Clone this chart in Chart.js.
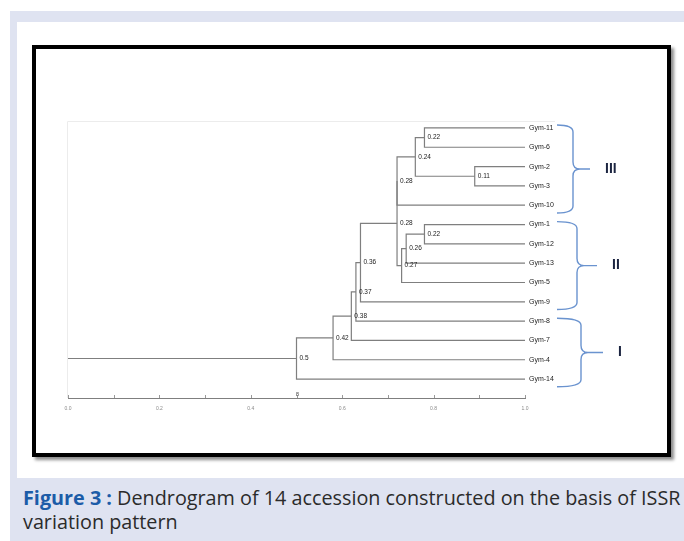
<!DOCTYPE html>
<html>
<head>
<meta charset="utf-8">
<script src="https://cdn.jsdelivr.net/npm/chart.js@4/dist/chart.umd.min.js"></script>
<style>
    body { margin: 0; width: 684px; height: 541px; background: #fff; position: relative; overflow: hidden; }
    .lav { position: absolute; left: 10px; top: 11px; right: 0; bottom: 0; background: #dfe3f1; }
    .panel { position: absolute; left: 17px; top: 22px; right: 0; height: 456px; background: #fff; }
    .box { position: absolute; left: 32px; top: 45px; width: 639px; height: 412px; box-sizing: border-box;
           border: 4px solid #000; box-shadow: 3px 3px 3px rgba(0,0,0,0.45); }
    .caption { position: absolute; left: 23px; top: 486px; font: 19.8px "Open Sans", sans-serif; line-height: 24px;
               color: #2b2b2b; white-space: nowrap; }
    .caption b { color: #1c5ca8; }
    #dendro { position: absolute; left: 0; top: 0; }
</style>
</head>
<body>
<div class="lav"></div>
<div class="panel"></div>
<div class="box"></div>
<div class="caption"><b>Figure 3 :</b> Dendrogram of 14 accession constructed on the basis of ISSR<br>variation pattern</div>
<canvas id="dendro" width="684" height="541"></canvas>

<script>
/* dendrogram of ISSR similarity */

// leaves, top to bottom
const leaves = ['Gym-11', 'Gym-6', 'Gym-2', 'Gym-3', 'Gym-10', 'Gym-1', 'Gym-12',
                'Gym-13', 'Gym-5', 'Gym-9', 'Gym-8', 'Gym-7', 'Gym-4', 'Gym-14'];

// merges: negative = leaf number (1-based), positive = earlier merge number
const mergeLeft   = [-1, -3, 1, 3, -6, 5, 6, 4, 8, 9, 10, 11, 12];
const mergeRight  = [-2, -4, 2, -5, -7, -8, -9, 7, -10, -11, -12, -13, -14];
const mergeHeight = [0.22, 0.11, 0.24, 0.28, 0.22, 0.26, 0.27, 0.28, 0.36, 0.37, 0.38, 0.42, 0.5];

// cluster groups marked with braces
const groupNames = ['III', 'II', 'I'];
const groupFirst = ['Gym-11', 'Gym-1', 'Gym-8'];
const groupLast  = ['Gym-10', 'Gym-9', 'Gym-14'];

// axis
const axisMin = 0;
const axisMax = 1;
const tickStep = 0.1;

const LINE = '#7f7f7f';

// build segments
const nodes = [];
const datasets = [];

function nodePos(ref) {
    return ref < 0 ? { x: 1, y: -ref - 1 } : nodes[ref - 1];
}

mergeHeight.forEach((h, i) => {
    const a = nodePos(mergeLeft[i]);
    const b = nodePos(mergeRight[i]);
    const x = 1 - h;
    nodes.push({ x: x, y: (a.y + b.y) / 2, h: h });
    datasets.push({
        data: [{ x: a.x, y: a.y }, { x: x, y: a.y }, { x: x, y: b.y }, { x: b.x, y: b.y }]
    });
});

const root = nodes[nodes.length - 1];
datasets.push({ data: [{ x: axisMin, y: root.y }, { x: root.x, y: root.y }] });

datasets.forEach(d => {
    d.showLine = true;
    d.borderColor = LINE;
    d.borderWidth = 1.2;
    d.pointRadius = 0;
    d.tension = 0;
    d.fill = false;
});

const dendroPlugin = {
    id: 'dendroDecor',
    beforeDatasetsDraw(chart) {
        const { ctx, chartArea: ca } = chart;
        ctx.save();
        ctx.strokeStyle = '#ececec';
        ctx.lineWidth = 1;
        ctx.beginPath();
        ctx.moveTo(ca.left - 0.5, ca.bottom);
        ctx.lineTo(ca.left - 0.5, ca.top + 0.5);
        ctx.lineTo(ca.right + 30, ca.top + 0.5);
        ctx.stroke();
        ctx.restore();
    },
    afterDatasetsDraw(chart) {
        const { ctx, chartArea: ca, scales: { x, y } } = chart;
        ctx.save();

        // small tick marks on the axis
        ctx.strokeStyle = '#999';
        ctx.lineWidth = 1;
        x.ticks.forEach(t => {
            const px = Math.round(x.getPixelForValue(t.value)) + 0.5;
            ctx.beginPath();
            ctx.moveTo(px, ca.bottom);
            ctx.lineTo(px, ca.bottom - 3);
            ctx.stroke();
        });

        // marker above the axis at the root
        ctx.fillStyle = '#555';
        ctx.font = '6px "Liberation Sans"';
        ctx.textAlign = 'center';
        ctx.textBaseline = 'bottom';
        ctx.fillText('8', x.getPixelForValue(root.x) + 1, ca.bottom - 1);

        // node labels
        ctx.fillStyle = '#222';
        ctx.font = '6.5px "Liberation Sans"';
        ctx.textAlign = 'left';
        ctx.textBaseline = 'middle';
        nodes.forEach(n => {
            ctx.fillText(String(n.h), x.getPixelForValue(n.x) + 3, y.getPixelForValue(n.y));
        });

        // leaf labels
        ctx.font = '7px "Liberation Sans"';
        leaves.forEach((name, i) => {
            ctx.fillText(name, x.getPixelForValue(1) + 4, y.getPixelForValue(i));
        });

        // braces and group names
        const spine = [48, 52, 56];
        const tip = [65, 72, 78];
        const right = x.getPixelForValue(1);
        ctx.strokeStyle = '#6a93cf';
        ctx.lineWidth = 1.4;
        groupNames.forEach((g, i) => {
            const top = y.getPixelForValue(leaves.indexOf(groupFirst[i]) - 0.15);
            const bot = y.getPixelForValue(leaves.indexOf(groupLast[i]) + 0.4);
            const mid = (top + bot) / 2;
            const xe = right + 32, xs = right + spine[i], xt = right + tip[i];
            const r = 7;
            ctx.beginPath();
            ctx.moveTo(xe, top);
            ctx.quadraticCurveTo(xs, top, xs, top + r);
            ctx.lineTo(xs, mid - r);
            ctx.quadraticCurveTo(xs, mid, xs + r, mid);
            ctx.lineTo(xt, mid);
            ctx.moveTo(xs + r, mid);
            ctx.quadraticCurveTo(xs, mid, xs, mid + r);
            ctx.lineTo(xs, bot - r);
            ctx.quadraticCurveTo(xs, bot, xe, bot);
            ctx.stroke();

            ctx.fillStyle = '#1c2541';
            ctx.font = 'bold 14px "Liberation Sans"';
            ctx.textAlign = 'left';
            ctx.fillText(g, xt + 15, mid);
        });

        ctx.restore();
    }
};

new Chart(document.getElementById('dendro'), {
    type: 'scatter',
    data: { datasets: datasets },
    options: {
        responsive: false,
        animation: false,
        events: [],
        layout: { padding: { left: 68, right: 159, top: 121, bottom: 123 } },
        plugins: { legend: { display: false }, tooltip: { enabled: false } },
        scales: {
            x: {
                type: 'linear',
                min: axisMin,
                max: axisMax,
                afterFit: s => { s.height = 20; },
                grid: { display: false, drawTicks: false },
                border: { display: true, color: '#7f7f7f', width: 1 },
                ticks: {
                    stepSize: tickStep,
                    padding: 8,
                    color: '#8a8a8a',
                    font: { family: 'Liberation Sans', size: 5 },
                    callback: (v, i) => (i % 2 === 0 ? v.toFixed(1) : '')
                }
            },
            y: {
                type: 'linear',
                display: false,
                reverse: true,
                min: -0.36,
                max: 13.98
            }
        }
    },
    plugins: [dendroPlugin]
});
</script>
</body>
</html>
